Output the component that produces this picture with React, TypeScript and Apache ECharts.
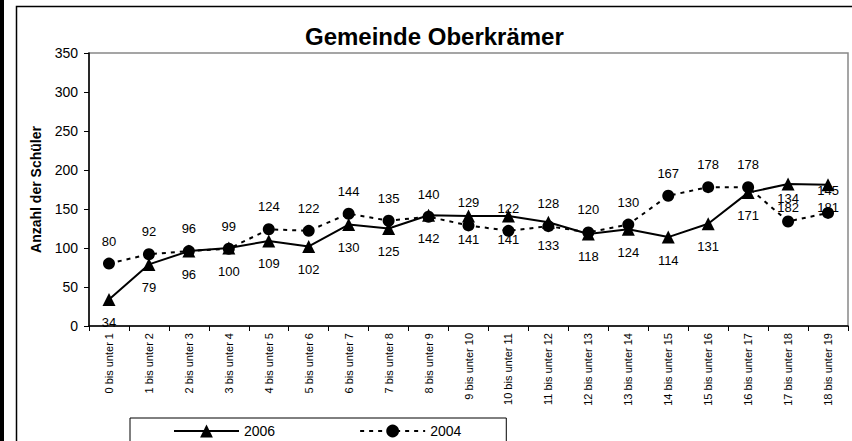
import React, { useEffect, useRef } from "react";
import * as echarts from "echarts";

const categories = [
  "0 bis unter 1", "1 bis unter 2", "2 bis unter 3", "3 bis unter 4", "4 bis unter 5",
  "5 bis unter 6", "6 bis unter 7", "7 bis unter 8", "8 bis unter 9", "9 bis unter 10",
  "10 bis unter 11", "11 bis unter 12", "12 bis unter 13", "13 bis unter 14", "14 bis unter 15",
  "15 bis unter 16", "16 bis unter 17", "17 bis unter 18", "18 bis unter 19",
];
const values2006 = [34, 79, 96, 100, 109, 102, 130, 125, 142, 141, 141, 133, 118, 124, 114, 131, 171, 182, 181];
const values2004 = [80, 92, 96, 99, 124, 122, 144, 135, 140, 129, 122, 128, 120, 130, 167, 178, 178, 134, 145];
const titleText = "Gemeinde Oberkrämer";
const yAxisTitle = "Anzahl der Schüler";

const FONT = "'Liberation Sans', Arial, sans-serif";

export default function App() {
  const ref = useRef<HTMLDivElement>(null);
  useEffect(() => {
    if (!ref.current) return;
    const chart = echarts.init(ref.current, undefined, { renderer: "svg" });
    chart.setOption({
      animation: false,
      backgroundColor: "#fff",
      textStyle: { fontFamily: FONT, color: "#000" },
      title: {
        text: titleText,
        left: 305,
        top: 24,
        padding: 0,
        textStyle: { fontFamily: FONT, fontSize: 24, fontWeight: "bold", color: "#000" },
      },
      graphic: [
        { type: "rect", shape: { x: 0, y: 0, width: 4, height: 441 }, style: { fill: "#000" }, z: 0 },
        {
          type: "rect",
          shape: { x: 16.5, y: 6.5, width: 900, height: 600 },
          style: { fill: "none", stroke: "#000", lineWidth: 1.5 },
          z: 0,
        },
      ],
      legend: {
        left: 130,
        top: 418,
        padding: [6, 45, 30, 43],
        borderColor: "#000",
        borderWidth: 1,
        itemWidth: 65,
        itemHeight: 16,
        itemGap: 84,
        textStyle: { fontFamily: FONT, fontSize: 14, color: "#000" },
        data: ["2006", "2004"],
      },
      grid: {
        left: 89,
        right: 4,
        top: 53,
        bottom: 115,
        show: true,
        borderColor: "#888",
        borderWidth: 1.5,
        backgroundColor: "#fff",
      },
      xAxis: {
        type: "category",
        data: categories,
        boundaryGap: true,
        axisLine: { lineStyle: { color: "#000", width: 1.5 } },
        axisTick: { show: true, length: 5, lineStyle: { color: "#000" } },
        axisLabel: { rotate: 90, fontSize: 11, color: "#000", margin: 7, fontFamily: FONT, interval: 0 },
        splitLine: { show: false },
      },
      yAxis: {
        type: "value",
        min: 0,
        max: 350,
        interval: 50,
        name: yAxisTitle,
        nameLocation: "middle",
        nameGap: 46,
        nameRotate: 90,
        nameTextStyle: { fontFamily: FONT, fontSize: 14, fontWeight: "bold", color: "#000" },
        axisLine: { show: true, lineStyle: { color: "#000", width: 1.5 } },
        axisTick: { show: true, length: 5, lineStyle: { color: "#000" } },
        axisLabel: { fontSize: 14, color: "#000", margin: 11, fontFamily: FONT },
        splitLine: { show: false },
      },
      series: [
        {
          name: "2006",
          type: "line",
          data: values2006,
          symbol: "triangle",
          symbolSize: 13,
          itemStyle: { color: "#000" },
          lineStyle: { color: "#000", width: 2 },
          label: {
            show: true,
            position: "bottom",
            distance: 10,
            fontSize: 13,
            color: "#000",
            fontFamily: FONT,
          },
          z: 3,
        },
        {
          name: "2004",
          type: "line",
          data: values2004,
          symbol: "circle",
          symbolSize: 12,
          itemStyle: { color: "#000" },
          lineStyle: { color: "#000", width: 2, type: [4, 5] },
          label: {
            show: true,
            position: "top",
            distance: 10,
            fontSize: 13,
            color: "#000",
            fontFamily: FONT,
          },
          z: 2,
        },
      ],
    });
    return () => chart.dispose();
  }, []);
  return <div ref={ref} style={{ width: 852, height: 441, position: "absolute", left: 0, top: 0 }} />;
}
